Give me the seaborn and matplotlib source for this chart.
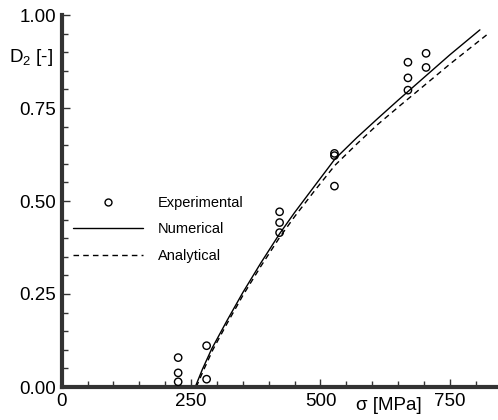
import matplotlib
matplotlib.use("Agg")
import matplotlib.pyplot as plt
from matplotlib.lines import Line2D
from matplotlib.ticker import MultipleLocator
import seaborn as sns
import pandas as pd

# ---- data ----
sigma_exp = [225, 225, 225, 280, 280, 421, 421, 421, 527, 527, 527, 669, 669, 669, 704, 704]
D_exp = [0.079, 0.038, 0.014, 0.111, 0.021, 0.471, 0.442, 0.415,
         0.628, 0.622, 0.540, 0.873, 0.831, 0.798, 0.897, 0.859]

sigma_num = [258, 272, 290, 320, 350, 385, 421, 450, 490, 528, 570, 610, 650, 700, 750, 808]
D_num = [0.000, 0.048, 0.103, 0.180, 0.254, 0.334, 0.412, 0.469, 0.543, 0.613,
         0.670, 0.721, 0.771, 0.832, 0.893, 0.960]

sigma_ana = [260, 274, 292, 320, 350, 385, 421, 450, 490, 528, 570, 610, 655, 700, 750, 827]
D_ana = [0.000, 0.045, 0.100, 0.172, 0.246, 0.325, 0.402, 0.458, 0.530, 0.596,
         0.653, 0.705, 0.758, 0.810, 0.868, 0.953]

x_ticks = [0, 250, 500, 750]
y_ticks = [0.00, 0.25, 0.50, 0.75, 1.00]
y_tick_labels = ["0.00", "0.25", "0.50", "0.75", "1.00"]
legend_labels = ["Experimental", "Numerical", "Analytical"]

sns.set_style("ticks")
plt.rcParams["font.family"] = ["Liberation Sans", "DejaVu Sans"]
plt.rcParams["mathtext.default"] = "regular"
plt.rcParams["text.color"] = "black"
plt.rcParams["xtick.labelcolor"] = "black"
plt.rcParams["ytick.labelcolor"] = "black"

fig = plt.figure(figsize=(4.98, 4.20), dpi=100)
ax = fig.add_axes([61.7 / 498, 33 / 420, (498 - 61.7) / 498, 372 / 420])

df_exp = pd.DataFrame({"sigma": sigma_exp, "D": D_exp})
df_num = pd.DataFrame({"sigma": sigma_num, "D": D_num})
df_ana = pd.DataFrame({"sigma": sigma_ana, "D": D_ana})

sns.lineplot(data=df_num, x="sigma", y="D", ax=ax, color="black", lw=1.0,
             sort=False, estimator=None)
sns.lineplot(data=df_ana, x="sigma", y="D", ax=ax, color="black", lw=1.0,
             linestyle=(0, (4, 3)), sort=False, estimator=None)
sns.scatterplot(data=df_exp, x="sigma", y="D", ax=ax, marker="o", s=28,
                facecolor="none", edgecolor="black", linewidth=1.0, zorder=3)

ax.set_xlim(0, 843)
ax.set_ylim(0, 1.0)
ax.set_xticks(x_ticks)
ax.set_yticks(y_ticks)
ax.set_yticklabels(y_tick_labels)
ax.xaxis.set_minor_locator(MultipleLocator(50))
ax.yaxis.set_minor_locator(MultipleLocator(0.05))
ax.tick_params(axis="both", which="major", direction="in", length=6, width=1,
               labelsize=13.5, pad=4, color="#333333", labelcolor="black")
ax.tick_params(axis="both", which="minor", direction="in", length=4, width=1,
               color="#333333")
ax.set_xlabel("")
ax.set_ylabel("")

for side in ["top", "right"]:
    ax.spines[side].set_visible(False)
for side in ["left", "bottom"]:
    ax.spines[side].set_linewidth(3)
    ax.spines[side].set_color("#333333")

fig.text(53 / 498, 1 - 58 / 420, "D$_2$ [-]", ha="right", va="center",
         fontsize=13.5, color="black")
fig.text(389 / 498, 1 - 405 / 420, "σ [MPa]", ha="center", va="center",
         fontsize=13.5, color="black")

handles = [
    Line2D([], [], marker="o", linestyle="none", markerfacecolor="none",
           markeredgecolor="black", markersize=5, markeredgewidth=1.0),
    Line2D([], [], color="black", lw=1.0),
    Line2D([], [], color="black", lw=1.0, linestyle=(0, (4, 3))),
]
leg = ax.legend(handles, legend_labels, loc="upper left",
                bbox_to_anchor=(73 / 498, 1 - 196 / 420), bbox_transform=fig.transFigure,
                frameon=False, borderpad=0, borderaxespad=0, fontsize=10.5,
                handlelength=4.8, handletextpad=1.0, labelspacing=0.85)
for t in leg.get_texts():
    t.set_color("black")

fig.savefig("out.png", dpi=100)
